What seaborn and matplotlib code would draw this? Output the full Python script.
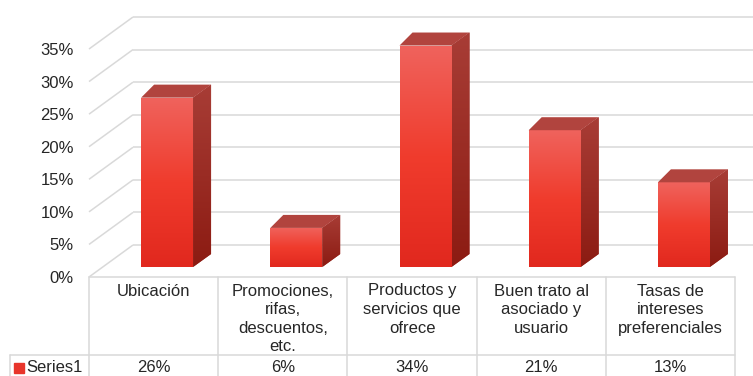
import numpy as np
import pandas as pd
import matplotlib
matplotlib.use("Agg")
import matplotlib.pyplot as plt
from matplotlib.patches import Polygon
from matplotlib.colors import LinearSegmentedColormap
import seaborn as sns

# ---- data ----
categories = [
    "Ubicación",
    "Promociones,\nrifas,\ndescuentos,\netc.",
    "Productos y\nservicios que\nofrece",
    "Buen trato al\nasociado y\nusuario",
    "Tasas de\nintereses\npreferenciales",
]
values = [26, 6, 34, 21, 13]
value_labels = ["26%", "6%", "34%", "21%", "13%"]
series_name = "Series1"
y_ticks = [0, 5, 10, 15, 20, 25, 30, 35]
y_tick_labels = ["0%", "5%", "10%", "15%", "20%", "25%", "30%", "35%"]

# ---- styling ----
TEXT = "#262626"
GRID = "#d9d9d9"
FRONT_STOPS = ["#ef635d", "#f03c2d", "#e1281e"]
SIDE_STOPS = ["#a83d36", "#8c1b12"]
TOP = "#b1443e"
MARKER = "#e8352b"
FONT_SIZE = 12

sns.set_theme(style="white")
plt.rcParams["font.family"] = ["Liberation Sans", "DejaVu Sans"]

W, H = 753, 376
fig = plt.figure(figsize=(W / 100, H / 100), dpi=100)
fig.patch.set_facecolor("white")

# pixel geometry of the oblique 3-D frame
PX_CAT = 129.2          # px per category
PX_PCT = 6.514          # px per percentage point
LEFT_PX, FLOOR_PX = 89, 277
ax = fig.add_axes([LEFT_PX / W, (H - FLOOR_PX) / H, (W - LEFT_PX) / W, FLOOR_PX / H])
x_max = -0.5 + (W - LEFT_PX) / PX_CAT
y_max = FLOOR_PX / PX_PCT

WALL_DX, WALL_DY = 44 / PX_CAT, 32 / PX_PCT      # floor depth
BAR_SHIFT, LIFT = 13.5 / PX_CAT, 10 / PX_PCT      # bar placement inside the floor
BAR_W = 52 / PX_CAT
DXL, DXR, DY = 13 / PX_CAT, 18 / PX_CAT, 13 / PX_PCT   # bar depth

# back and side walls
for v in y_ticks:
    ax.plot([-0.5, -0.5 + WALL_DX], [v, v + WALL_DY], color=GRID, lw=1.1,
            zorder=1, clip_on=False, solid_capstyle="butt")
    ax.plot([-0.5 + WALL_DX, x_max], [v + WALL_DY] * 2, color=GRID, lw=1.1,
            zorder=1, clip_on=False, solid_capstyle="butt")

df = pd.DataFrame({"cat": categories, "val": values})
sns.barplot(data=df, x="cat", y="val", color=FRONT_STOPS[1], width=BAR_W,
            bottom=LIFT, errorbar=None, saturation=1, linewidth=0,
            zorder=3, ax=ax)

front_cmap = LinearSegmentedColormap.from_list("front", FRONT_STOPS[::-1])
side_cmap = LinearSegmentedColormap.from_list("side", SIDE_STOPS[::-1])
grad = np.linspace(0, 1, 256).reshape(-1, 1)

for p in list(ax.patches):
    p.set_x(p.get_x() + BAR_SHIFT)
    x0, y0, w, h = p.get_x(), p.get_y(), p.get_width(), p.get_height()
    x1, y1 = x0 + w, y0 + h
    # front face gradient
    im = ax.imshow(grad, cmap=front_cmap, origin="lower", aspect="auto",
                   extent=[x0, x1, y0, y1], zorder=4, interpolation="bilinear")
    im.set_clip_path(p)
    # right side face
    side = Polygon([(x1, y0), (x1 + DXR, y0 + DY), (x1 + DXR, y1 + DY), (x1, y1)],
                   closed=True, facecolor=SIDE_STOPS[0], edgecolor="none", zorder=3)
    ax.add_patch(side)
    im2 = ax.imshow(grad, cmap=side_cmap, origin="lower", aspect="auto",
                    extent=[x1, x1 + DXR, y0, y1 + DY], zorder=4,
                    interpolation="bilinear")
    im2.set_clip_path(side)
    # top face
    top = Polygon([(x0, y1), (x1, y1), (x1 + DXR, y1 + DY), (x0 + DXL, y1 + DY)],
                  closed=True, facecolor=TOP, edgecolor="none", zorder=5)
    ax.add_patch(top)

ax.set_xlim(-0.5, x_max)
ax.set_ylim(0, y_max)
ax.set_yticks(y_ticks, y_tick_labels)
ax.tick_params(axis="y", length=0, pad=11, labelsize=FONT_SIZE, labelcolor=TEXT)
ax.set_xticks([])
ax.set_xlabel("")
ax.set_ylabel("")
for s in ax.spines.values():
    s.set_visible(False)
ax.set_facecolor("none")

# ---- data table under the plot ----
trans = ax.get_xaxis_transform()


def fy(px):
    return (FLOOR_PX - px) / FLOOR_PX


def fx(px):
    return -0.5 + (px - LEFT_PX) / PX_CAT


n = len(categories)
row_px, bottom_px, cell_left_px = 354.5, 380, 9.5
line_kw = dict(color=GRID, lw=1.1, transform=trans, clip_on=False, zorder=2)
ax.plot([-0.5, n - 0.5], [fy(FLOOR_PX), fy(FLOOR_PX)], **line_kw)
ax.plot([fx(cell_left_px), n - 0.5], [fy(row_px), fy(row_px)], **line_kw)
for i in range(n + 1):
    ax.plot([i - 0.5, i - 0.5], [fy(FLOOR_PX), fy(bottom_px)], **line_kw)
ax.plot([fx(cell_left_px)] * 2, [fy(row_px), fy(bottom_px)], **line_kw)

for i, (cat, lab) in enumerate(zip(categories, value_labels)):
    ax.text(i, fy(283.5), cat, transform=trans, ha="center", va="top",
            fontsize=FONT_SIZE, color=TEXT, linespacing=1.3, clip_on=False)
    ax.text(i, fy(367.5), lab, transform=trans, ha="center", va="center",
            fontsize=FONT_SIZE, color=TEXT, clip_on=False)

ax.plot([fx(19)], [fy(368)], marker="s", markersize=6.5, color=MARKER,
        transform=trans, clip_on=False, linestyle="none")
ax.text(fx(26), fy(367.5), series_name, transform=trans, ha="left", va="center",
        fontsize=FONT_SIZE, color=TEXT, clip_on=False)

fig.savefig("out.png", dpi=100, facecolor="white")
